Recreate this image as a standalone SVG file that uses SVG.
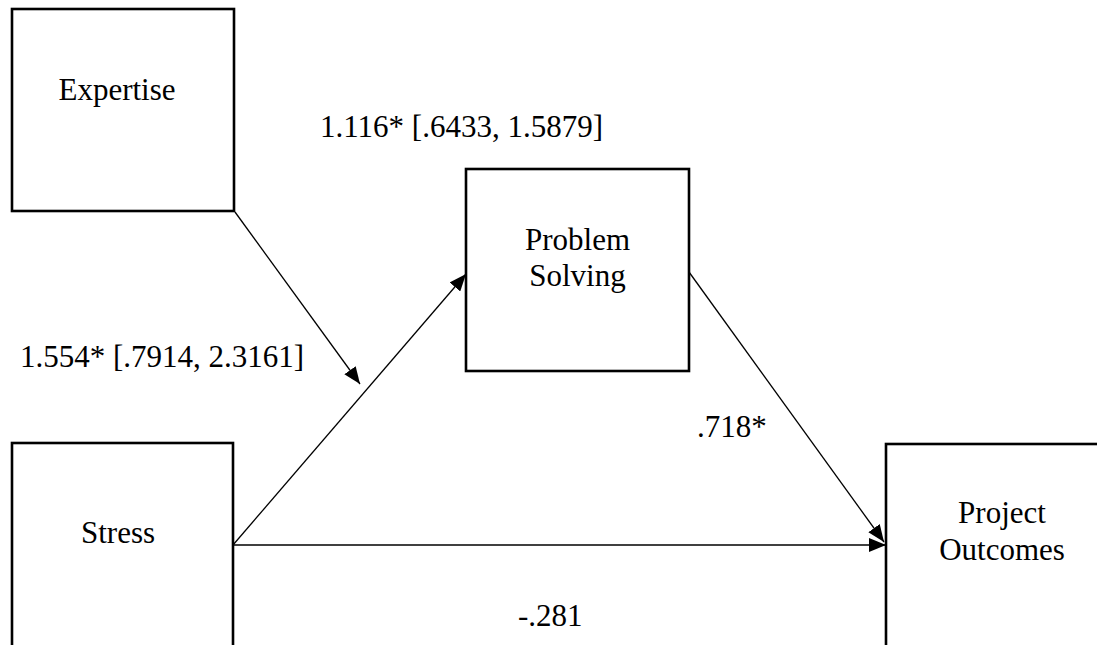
<svg xmlns="http://www.w3.org/2000/svg" width="1097" height="645" viewBox="0 0 1097 645">
<style>
.box{fill:#fff;stroke:#000;stroke-width:2.6}
.t{font-family:"Liberation Serif","Times New Roman",serif;font-size:31px;fill:#000}
.c{text-anchor:middle}
.ln{stroke:#000;stroke-width:1.3;fill:none;marker-end:url(#ah)}
</style>
<defs>
<marker id="ah" markerUnits="userSpaceOnUse" markerWidth="18" markerHeight="14" refX="17" refY="7" orient="auto">
<path d="M0,0 L17,7 L0,14 z" fill="#000"/>
</marker>
</defs>
<rect width="1097" height="645" fill="#fff"/>
<g id="expertise">
<rect class="box" x="12" y="9" width="222" height="202"/>
<text class="t c" x="117" y="100">Expertise</text>
</g>
<g id="problem-solving">
<rect class="box" x="466" y="169" width="223" height="202"/>
<text class="t c" x="577.5" y="250">Problem</text>
<text class="t c" x="577.5" y="286">Solving</text>
</g>
<g id="stress">
<rect class="box" x="12" y="443" width="221" height="230"/>
<text class="t c" x="118" y="543">Stress</text>
</g>
<g id="project-outcomes">
<rect class="box" x="886" y="444" width="240" height="230"/>
<text class="t c" x="1002" y="523">Project</text>
<text class="t c" x="1002" y="560">Outcomes</text>
</g>
<g id="connectors">
<line class="ln" x1="235" y1="212" x2="360" y2="384"/>
<line class="ln" x1="233" y1="545" x2="466" y2="274"/>
<line class="ln" x1="233" y1="545" x2="886" y2="545"/>
<line class="ln" x1="689" y1="272" x2="884" y2="542"/>
</g>
<g id="labels">
<text class="t" x="320" y="137">1.116* [.6433, 1.5879]</text>
<text class="t" x="20" y="367">1.554* [.7914, 2.3161]</text>
<text class="t" x="697" y="437">.718*</text>
<text class="t" x="518" y="626">-.281</text>
</g>
</svg>
